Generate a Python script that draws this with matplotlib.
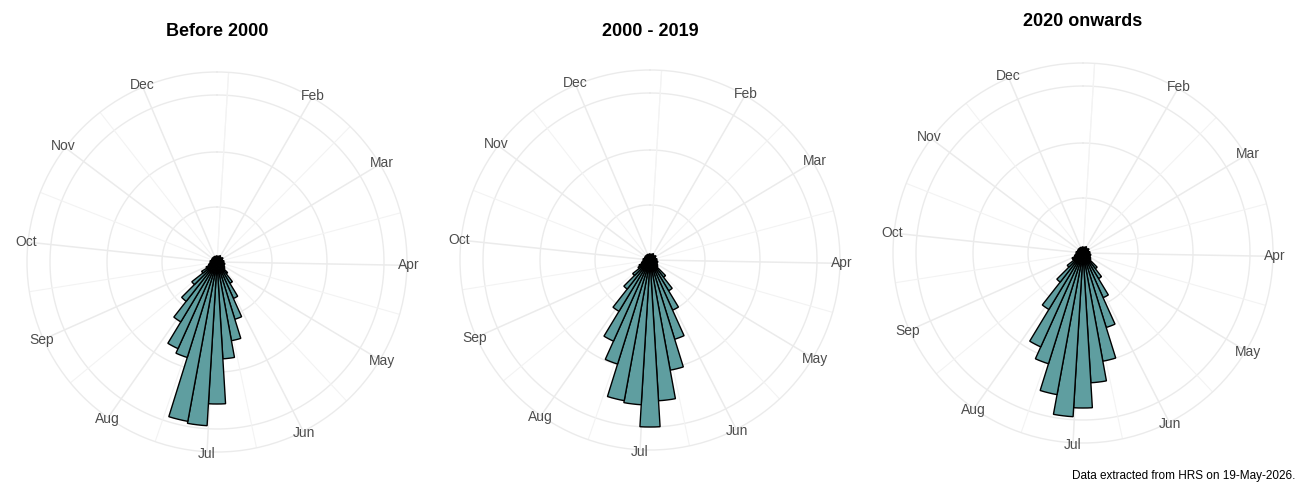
import numpy as np
import matplotlib
matplotlib.use("Agg")
import matplotlib.pyplot as plt

plt.rcParams['font.family'] = ['Liberation Sans', 'DejaVu Sans']

titles = ["Before 2000", "2000 - 2019", "2020 onwards"]
months = ["Feb", "Mar", "Apr", "May", "Jun", "Jul", "Aug", "Sep", "Oct", "Nov", "Dec"]
month_angles = [30, 59, 91, 121, 153, 183, 215, 246, 276, 307, 337]

small = [6, 5, 6, 5, 7, 6, 5, 6, 7, 6, 5, 6, 7, 6, 7, 8, 7, 8, 9, 10]
tail = [12, 9, 8, 7, 6, 7, 6, 5, 6, 5, 6, 5, 6, 5, 6, 5, 6]
before_2000 = small + [15, 25, 40, 60, 80, 97, 142, 164, 162, 100, 95, 70, 50, 32, 18] + tail
y2000_2019 = small + [22, 36, 55, 83, 112, 141, 167, 145, 143, 109, 89, 60, 37, 22, 14] + tail
y2020_on = small + [20, 30, 49, 78, 110, 130, 155, 164, 144, 116, 103, 66, 37, 20, 12] + tail
series = [before_2000, y2000_2019, y2020_on]

radial_breaks = [55, 110, 167]
rmax = 190

fig = plt.figure(figsize=(13, 5), dpi=100)
centers = [(217, 262), (650, 260), (1083, 253)]
title_y = [32, 32, 22]
R = 190
for i, (cx, cy) in enumerate(centers):
    ax = fig.add_axes([(cx - R) / 1300, (500 - cy - R) / 500, 2 * R / 1300, 2 * R / 500],
                      projection="polar")
    ax.set_theta_zero_location("N")
    ax.set_theta_direction(-1)
    vals = series[i]
    n = len(vals)
    theta = np.arange(n) * 2 * np.pi / n
    ax.bar(theta, vals, width=2 * np.pi / n, color="#5f9ea0", edgecolor="black",
           linewidth=1, zorder=3)
    ax.set_ylim(0, rmax)
    ax.set_yticks(radial_breaks)
    ax.set_yticklabels([])
    ax.set_xticks([])
    ax.grid(False)
    ax.spines["polar"].set_color("#ebebeb")
    ax.spines["polar"].set_linewidth(1)
    for r in radial_breaks:
        t = np.linspace(0, 2 * np.pi, 400)
        ax.plot(t, [r] * 400, color="#ebebeb", lw=1, zorder=1)
    majors = np.deg2rad(month_angles)
    ext = month_angles + [month_angles[0] + 360]
    ext = [ext[-2] - 360] + ext
    minors = [np.deg2rad((a + b) / 2) for a, b in zip(ext[:-1], ext[1:])]
    for a in majors:
        ax.plot([a, a], [0, rmax], color="#ebebeb", lw=1.1, zorder=1)
    for a in minors:
        ax.plot([a, a], [0, rmax], color="#f3f3f3", lw=0.8, zorder=1)
    for lab, a in zip(months, month_angles):
        ax.text(np.deg2rad(a), rmax + 2, lab, ha="center", va="center",
                fontsize=10, color="#4d4d4d", clip_on=False, zorder=4,
                bbox=dict(facecolor="white", edgecolor="none", pad=0.5, alpha=0))
    ax.set_facecolor("white")
    fig.text(cx / 1300, 1 - title_y[i] / 500, titles[i], ha="center", va="center",
             fontsize=13, fontweight="bold")

fig.text(1295 / 1300, 1 - 476 / 500, "Data extracted from HRS on 19-May-2026.",
         ha="right", va="center", fontsize=8.5)
fig.savefig("out.png", dpi=100)
